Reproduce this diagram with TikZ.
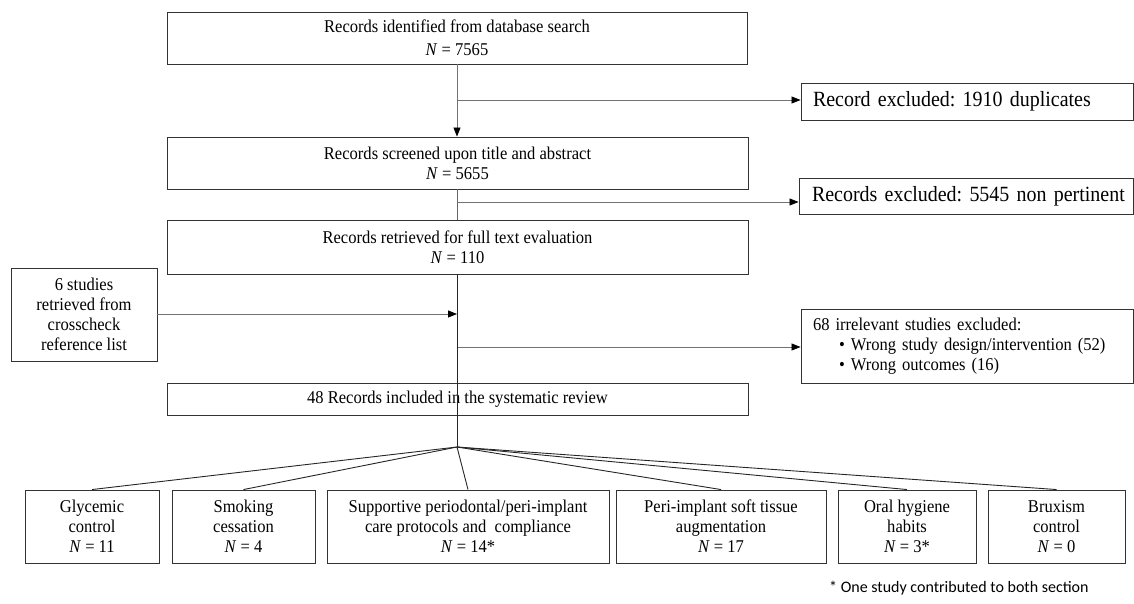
\documentclass[tikz,border=0pt]{standalone}
\usepackage{fontspec}
\setmainfont[FakeStretch=0.92]{Liberation Serif}
\newfontfamily\notefont{Carlito}
\usetikzlibrary{arrows.meta}
\frenchspacing
\begin{document}
\frenchspacing
\begin{tikzpicture}[x=1pt,y=-1pt,
  box/.style={draw=black!80, line width=0.9pt, inner sep=0pt, align=center,
    font=\fontsize{18}{20}\selectfont},
  bigbox/.style={box, font=\fontsize{21.7}{24}\selectfont},
  arr/.style={draw=black!55, line width=0.8pt,
    -{Triangle[length=9pt,width=7pt,color=black]}},
  plain/.style={draw=black!60, line width=0.8pt},
  fanline/.style={draw=black!85, line width=0.9pt}
]
\useasboundingbox (0,0) rectangle (1134,604);

% main column
\node[box, minimum width=580pt, minimum height=52pt] (b1) at (457,38)
  {Records identified from database search\\[3pt]\textit{N} = 7565};
\node[box, minimum width=581pt, minimum height=52pt] (b2) at (457.5,163)
  {Records screened upon title and abstract\\\textit{N} = 5655};
\node[box, minimum width=581pt, minimum height=54pt] (b3) at (457.5,247)
  {Records retrieved for full text evaluation\\\textit{N} = 110};
\node[box, minimum width=581pt, minimum height=32pt] (b4) at (457.5,399)
  {48 Records included in the systematic review};

% side boxes
\node[bigbox, minimum width=332pt, minimum height=37pt, text width=316pt, align=left] (e1) at (967,101.5)
  {\hspace*{4pt}Record excluded: 1910 duplicates};
\node[bigbox, minimum width=334pt, minimum height=36pt, text width=318pt, align=left] (e2) at (966,196)
  {\hspace*{5pt}Records excluded: 5545 non pertinent};
\node[box, minimum width=332pt, minimum height=74pt, text width=316pt, align=left] (e3) at (967,346)
  {\hspace*{4pt}68 irrelevant studies excluded:\\
   \hspace*{30pt}\textbullet\hspace{6pt}Wrong study design/intervention (52)\\
   \hspace*{30pt}\textbullet\hspace{6pt}Wrong outcomes (16)};
\node[box, minimum width=146pt, minimum height=93pt] (s6) at (84,314.5)
  {6 studies\\retrieved from\\crosscheck\\reference list};

% bottom boxes
\node[box, minimum width=134pt, minimum height=73pt] (g) at (92,526.5)
  {Glycemic\\control\\\textit{N} = 11};
\node[box, minimum width=143pt, minimum height=73pt] (sm) at (243.5,526.5)
  {Smoking\\cessation\\\textit{N} = 4};
\node[box, minimum width=282pt, minimum height=73pt] (sup) at (468,526.5)
  {Supportive periodontal/peri-implant\\care protocols and\ \ compliance\\\textit{N} = 14*};
\node[box, minimum width=210pt, minimum height=73pt] (peri) at (721,526.5)
  {Peri-implant soft tissue\\augmentation\\\textit{N} = 17};
\node[box, minimum width=138pt, minimum height=73pt] (oral) at (907,526.5)
  {Oral hygiene\\habits\\\textit{N} = 3*};
\node[box, minimum width=137pt, minimum height=73pt] (brux) at (1056.5,526.5)
  {Bruxism\\control\\\textit{N} = 0};

\node[anchor=west, inner sep=0pt, font=\notefont\fontsize{16}{18}\selectfont] (fn) at (829,588)
  {* One study contributed to both section};

% connectors
\coordinate (j1) at (457,100);
\coordinate (j2) at (457,202);
\coordinate (j3) at (457,314);
\coordinate (j4) at (457,347);
\coordinate (fan) at (457,447);

\draw[arr] (b1.south -| j1) -- (b2.north -| j1);
\draw[arr] (j1) -- (j1 -| e1.west);
\draw[plain] (b2.south -| j2) -- (b3.north -| j2);
\draw[arr] (j2) -- (j2 -| e2.west);
\draw[arr] (s6.east |- j3) -- (j3);
\draw[arr] (j4) -- (j4 -| e3.west);
\draw[fanline] (b3.south -| fan) -- (fan);
\foreach \t in {g,sm,sup,peri,oral,brux}
  \draw[fanline] (fan) -- (\t.north);
\end{tikzpicture}
\end{document}
